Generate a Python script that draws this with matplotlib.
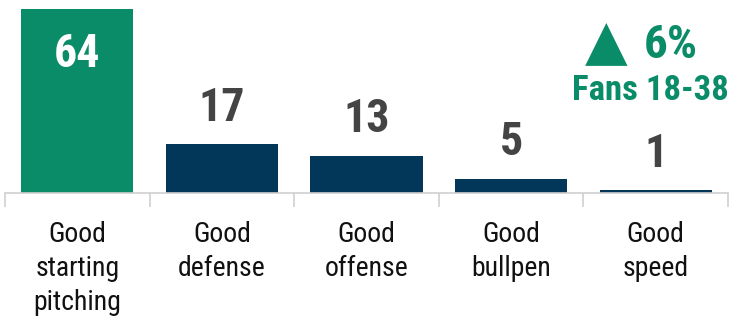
import matplotlib.pyplot as plt
from matplotlib import font_manager

categories = ["Good\nstarting\npitching", "Good\ndefense", "Good\noffense", "Good\nbullpen", "Good\nspeed"]
values = [64, 17, 13, 5, 1]
colors = ["#0b8c69", "#02375a", "#02375a", "#02375a", "#02375a"]
change_text = "6%"
change_group = "Fans 18-38"

# condensed sans face that ships a real bold
weights = {}
for f in font_manager.fontManager.ttflist:
    w = f.weight if isinstance(f.weight, int) else 400
    weights.setdefault(f.name, set()).add(w)
font = "Liberation Sans"
for cand in ["Roboto Condensed", "Fira Sans Condensed", "IBM Plex Sans Condensed",
             "Archivo Narrow", "PT Sans Narrow", "Asap Condensed",
             "Encode Sans Condensed", "Barlow Semi Condensed", "Liberation Sans Narrow"]:
    if cand in weights and max(weights[cand]) >= 700:
        font = cand
        break
plt.rcParams["font.family"] = [font, "DejaVu Sans"]

W, H = 743, 325
fig = plt.figure(figsize=(W / 100, H / 100), dpi=100)
ax = fig.add_axes([5 / W, (H - 193) / H, 723 / W, 184 / H])

x = range(len(values))
ax.bar(x, values, width=0.775, color=colors)
ax.set_xlim(-0.5, len(values) - 0.5)
ax.set_ylim(0, 64)

for i, v in enumerate(values):
    if i == 0:
        ax.text(i, v - 8, str(v), ha="center", va="top", color="white",
                fontsize=33, fontweight="bold")
    else:
        ax.text(i, v + 5, str(v), ha="center", va="bottom", color="#444444",
                fontsize=33, fontweight="bold", clip_on=False)

for s in ["top", "left", "right"]:
    ax.spines[s].set_visible(False)
ax.spines["bottom"].set_color("#d0d0d0")
ax.spines["bottom"].set_linewidth(1.2)
ax.set_yticks([])
ax.set_xticks(list(x))
ax.set_xticklabels(categories, fontsize=20, linespacing=1.35, color="#111111")
ax.tick_params(axis="x", which="major", length=0, pad=20)
ax.set_xticks([i - 0.5 for i in range(len(values) + 1)], minor=True)
ax.tick_params(axis="x", which="minor", length=10, color="#d0d0d0", width=1.2)

green = "#0b8c69"
fig.text(606 / W, 1 - 44 / H, "\u25b2", family="DejaVu Sans", color=green,
         fontsize=40, ha="center", va="center")
fig.text(671 / W, 1 - 45 / H, change_text, color=green, fontsize=34,
         fontweight="bold", ha="center", va="center")
fig.text(650 / W, 1 - 91 / H, change_group, color=green, fontsize=25,
         fontweight="bold", ha="center", va="center")

fig.savefig("out.png", dpi=100)
